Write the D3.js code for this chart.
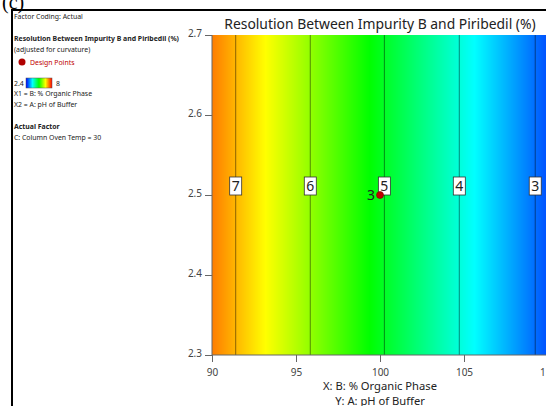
<!DOCTYPE html>
<html>
<head>
<meta charset="utf-8">
<script src="https://cdn.jsdelivr.net/npm/d3@7"></script>
<style>
  body { margin: 0; background: #fff; }
  svg { display: block; font-family: "Noto Sans", "Open Sans", sans-serif; }
</style>
</head>
<body>
<div id="chart"></div>
<script>
// contour levels and where each crosses the plot (x = % organic phase)
const contourLevels = [7, 6, 5, 4, 3];
const contourX = [91.41, 95.85, 100.26, 104.72, 109.24];
const labelY = 2.5;

const xTicks = [90, 95, 100, 105, 110];
const yTicks = [2.3, 2.4, 2.5, 2.6, 2.7];

// design point (x, y) with replicate count
const designPoints = [{x: 100, y: 2.5, n: 3}];

const colorStops = [2.4, 3.8, 5.2, 6.6, 8];
const colorRange = ["#0000ff", "#00ffff", "#00ff00", "#ffff00", "#ff0000"];

const legendLines = [
  {t: "Factor Coding: Actual", y: 19},
  {t: "Resolution Between Impurity B and Piribedil (%)", y: 41, bold: true},
  {t: "(adjusted for curvature)", y: 52},
  {t: "X1 = B: % Organic Phase", y: 96},
  {t: "X2 = A: pH of Buffer", y: 107},
  {t: "Actual Factor", y: 129, bold: true},
  {t: "C: Column Oven Temp = 30", y: 140}
];

const width = 546, height = 406;
const plot = {left: 212, top: 35, right: 548, bottom: 355};

const svg = d3.select("#chart").append("svg")
  .attr("width", width)
  .attr("height", height);

// (c) panel tag, cut off at the top
svg.append("text")
  .attr("x", 2).attr("y", 9)
  .attr("font-family", "Liberation Serif, serif")
  .attr("font-size", 20)
  .text("(c)");

// outer frame
svg.append("path")
  .attr("d", `M12,${height + 2} L12,10 L${width + 2},10`)
  .attr("fill", "none")
  .attr("stroke", "#000")
  .attr("stroke-width", 2);

const x = d3.scaleLinear().domain([90, 110]).range([plot.left, plot.right]);
const y = d3.scaleLinear().domain([2.3, 2.7]).range([plot.bottom, plot.top]);

// response along x, from the contour crossings
const response = d3.scaleLinear().domain(contourX).range(contourLevels).clamp(false);
const color = d3.scaleLinear().domain(colorStops).range(colorRange).clamp(true);

const g = svg.append("g");

// filled map, one column per pixel
const cols = d3.range(plot.left, Math.min(plot.right, width + 1), 1);
g.selectAll("rect.cell")
  .data(cols)
  .enter().append("rect")
  .attr("class", "cell")
  .attr("x", d => d)
  .attr("y", plot.top)
  .attr("width", 1.2)
  .attr("height", plot.bottom - plot.top)
  .attr("fill", d => color(response(x.invert(d + 0.5))));

// contour lines
g.selectAll("line.contour")
  .data(contourX)
  .enter().append("line")
  .attr("class", "contour")
  .attr("x1", d => x(d)).attr("x2", d => x(d))
  .attr("y1", plot.top).attr("y2", plot.bottom)
  .attr("stroke", "#000")
  .attr("stroke-opacity", 0.45)
  .attr("stroke-width", 1);

// contour labels
const lab = g.selectAll("g.clabel")
  .data(contourLevels)
  .enter().append("g")
  .attr("class", "clabel")
  .attr("transform", (d, i) => `translate(${x(contourX[i])},${y(labelY) - 9})`);
lab.append("rect")
  .attr("x", -6).attr("y", -9)
  .attr("width", 12).attr("height", 18)
  .attr("fill", "#fff")
  .attr("stroke", "#333")
  .attr("stroke-width", 0.8);
lab.append("text")
  .attr("text-anchor", "middle")
  .attr("y", 5)
  .attr("font-size", 14)
  .attr("fill", "#222")
  .text(d => d);

// design points
designPoints.forEach(p => {
  g.append("circle")
    .attr("cx", x(p.x)).attr("cy", y(p.y))
    .attr("r", 3.5)
    .attr("fill", "#c00000")
    .attr("stroke", "#7a0000")
    .attr("stroke-width", 0.6);
  g.append("text")
    .attr("x", x(p.x) - 5).attr("y", y(p.y) + 5)
    .attr("text-anchor", "end")
    .attr("font-size", 14)
    .attr("fill", "#222")
    .text(p.n);
});

// axes
const axisColor = "#666";
const xAxis = svg.append("g")
  .attr("transform", `translate(0,${plot.bottom})`)
  .call(d3.axisBottom(x).tickValues(xTicks).tickSize(7).tickFormat(d3.format("d")));
const yAxis = svg.append("g")
  .attr("transform", `translate(${plot.left},0)`)
  .call(d3.axisLeft(y).tickValues(yTicks).tickSize(7).tickFormat(d3.format(".1f")));
[xAxis, yAxis].forEach(a => {
  a.select(".domain").remove();
  a.selectAll(".tick line").attr("stroke", axisColor);
  a.selectAll(".tick text")
    .attr("font-family", "Noto Sans, sans-serif")
    .attr("font-size", 10)
    .attr("fill", "#444");
});
xAxis.selectAll(".tick text").attr("dy", "1.05em");
yAxis.selectAll(".tick text").attr("x", -10).attr("dy", "0.1em");

svg.append("line")
  .attr("x1", plot.left).attr("x2", width)
  .attr("y1", plot.bottom).attr("y2", plot.bottom)
  .attr("stroke", axisColor);
svg.append("line")
  .attr("x1", plot.left).attr("x2", plot.left)
  .attr("y1", plot.top).attr("y2", plot.bottom)
  .attr("stroke", axisColor);

// titles
svg.append("text")
  .attr("x", 380).attr("y", 29)
  .attr("text-anchor", "middle")
  .attr("font-size", 13.9)
  .attr("fill", "#222")
  .text("Resolution Between Impurity B and Piribedil (%)");
svg.append("text")
  .attr("x", 380).attr("y", 390)
  .attr("text-anchor", "middle")
  .attr("font-size", 11.2)
  .attr("fill", "#222")
  .text("X: B: % Organic Phase");
svg.append("text")
  .attr("x", 380).attr("y", 405)
  .attr("text-anchor", "middle")
  .attr("font-size", 11.2)
  .attr("fill", "#222")
  .text("Y: A: pH of Buffer");

// legend
const leg = svg.append("g").attr("font-size", 6.9).attr("fill", "#222");
leg.selectAll("text.l")
  .data(legendLines)
  .enter().append("text")
  .attr("class", "l")
  .attr("x", 14)
  .attr("y", d => d.y)
  .attr("font-weight", d => d.bold ? "bold" : "normal")
  .text(d => d.t);

leg.append("circle").attr("cx", 22).attr("cy", 62).attr("r", 3.5).attr("fill", "#b00000");
leg.append("text").attr("x", 30).attr("y", 64.5).attr("fill", "#c00000").text("Design Points");

const defs = svg.append("defs");
const grad = defs.append("linearGradient").attr("id", "cbar");
grad.selectAll("stop")
  .data(colorStops)
  .enter().append("stop")
  .attr("offset", d => (d - colorStops[0]) / (colorStops[4] - colorStops[0]))
  .attr("stop-color", d => color(d));
leg.append("rect")
  .attr("x", 26).attr("y", 78).attr("width", 26).attr("height", 10)
  .attr("fill", "url(#cbar)")
  .attr("stroke", "#555").attr("stroke-width", 0.5);
leg.append("text").attr("x", 14).attr("y", 86).text(colorStops[0]);
leg.append("text").attr("x", 56).attr("y", 86).text(colorStops[4]);
</script>
</body>
</html>
